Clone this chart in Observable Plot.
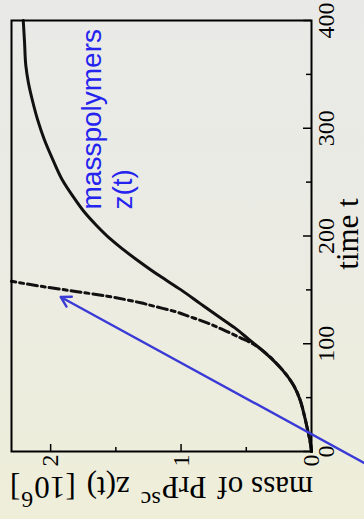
<!DOCTYPE html>
<html><head><meta charset="utf-8">
<script src="https://cdn.jsdelivr.net/npm/d3@7"></script>
<script src="https://cdn.jsdelivr.net/npm/@observablehq/plot@0.6"></script>
<style>
html,body{margin:0;padding:0;}
body{width:364px;height:519px;overflow:hidden;position:relative;
 background:linear-gradient(to bottom,#e9e9e7 0%,#ebebe4 45%,#eeeed9 100%);}
#chart{position:absolute;left:0;top:0;width:519px;height:364px;transform-origin:0 0;transform:translate(0,519px) rotate(-90deg);}
</style></head><body><div id="chart"></div>
<script>
// solid curve: mass of polymers z(t)
const solidT = [0,10,23,35,48,62,76,90,104,115,125,137,150,163,178,188,197,210,222,237,252,270,290,308,326,342,358,380,400];
const solidM = [0,0.012,0.035,0.058,0.088,0.14,0.225,0.34,0.48,0.59,0.71,0.85,1.00,1.165,1.34,1.45,1.54,1.65,1.74,1.83,1.91,1.98,2.05,2.10,2.14,2.17,2.19,2.20,2.21];
// dashed curve
const dashT = [0,10,23,35,48,62,76,90,100,105.5,112,119.4,125,130.2,134.3,138,144.1,148.8,153.4,158];
const dashM = [0,0.012,0.035,0.058,0.088,0.14,0.225,0.34,0.45,0.544,0.66,0.80,0.93,1.055,1.19,1.31,1.566,1.821,2.077,2.30];
// axes
const timeTicks = [0,100,200,300,400];
const timeMinor = [50,150,250,350];
const massTicks = [0,1,2];
const massMinor = [0.5,1.5];
const xLabel = "time t";
const yLabelParts = [
  {text:"mass of", sup:false},
  {text:"PrP", sup:false},
  {text:"sc", sup:true},
  {text:"z(t)", sup:false},
  {text:"[10", sup:false},
  {text:"6", sup:true},
  {text:"]", sup:false}
];
// annotation
const noteText = "masspolymers\nz(t)";
const noteT = 224.6, noteM = 1.379;
const arrowTail = {t:-11, m:-0.41};
const arrowHead = {t:143.4, m:1.923};

const solid = solidT.map((t,i)=>({t, m: solidM[i]}));
const dashed = dashT.map((t,i)=>({t, m: dashM[i]}));
const serif = "Liberation Serif, Times New Roman, serif";
const sans = "Liberation Sans, Arial, sans-serif";
const yLabelFull = yLabelParts.map(d=>d.text).join("");

const W = 519, H = 364, mL = 67, mR = 21, mT = 11, mB = 53;
const innerW = W - mL - mR, innerH = H - mT - mB;

const chart = Plot.plot({
  width: W, height: H,
  marginLeft: mL, marginRight: mR, marginTop: mT, marginBottom: mB,
  style: {background: "transparent", maxWidth: "none", overflow: "visible", fontFamily: serif, color: "black"},
  x: {domain: [0, 400]},
  y: {domain: [0, 2.3]},
  marks: [
    Plot.line(dashed, {x: "t", y: "m", stroke: "#111", strokeWidth: 3, strokeDasharray: "10,4,4,4", curve: "monotone-x"}),
    Plot.line(solid, {x: "t", y: "m", stroke: "#111", strokeWidth: 3, curve: "monotone-x"}),
    Plot.tickX(timeTicks, {x: d=>d, insetTop: innerH - 8, stroke: "black", strokeWidth: 1.5}),
    Plot.tickX(timeMinor, {x: d=>d, insetTop: innerH - 5, stroke: "black", strokeWidth: 1.5}),
    Plot.tickY(massTicks, {y: d=>d, insetRight: innerW - 8, stroke: "black", strokeWidth: 1.5}),
    Plot.tickY(massMinor, {y: d=>d, insetRight: innerW - 5, stroke: "black", strokeWidth: 1.5}),
    Plot.frame({stroke: "black", strokeWidth: 2}),
    Plot.axisX({ticks: timeTicks, tickSize: 0, tickPadding: 5, fontSize: 24, fontFamily: serif, label: null, tickFormat: d=>String(d)}),
    Plot.axisY({ticks: massTicks, tickSize: 0, tickPadding: 3, fontSize: 24, fontFamily: serif, label: null, tickFormat: d=>String(d)}),
    Plot.text([xLabel], {text: d=>d, frameAnchor: "bottom", dy: 46, dx: 2, lineAnchor: "bottom", fontSize: 31, fontFamily: serif, fill: "black"}),
    Plot.text([yLabelFull], {text: d=>d, frameAnchor: "left", dx: -25, rotate: -90, lineAnchor: "bottom", textAnchor: "middle", fontSize: 31, fontFamily: serif, fill: "black"}),
    Plot.text([{t: noteT, m: noteM, s: noteText}], {x: "t", y: "m", text: "s", textAnchor: "start", lineAnchor: "bottom", lineHeight: 1.107, fontSize: 28, fontFamily: sans, fill: "#2424ee"}),
    Plot.arrow([{x1: arrowTail.t, y1: arrowTail.m, x2: arrowHead.t, y2: arrowHead.m}], {x1: "x1", y1: "y1", x2: "x2", y2: "y2", stroke: "#3a3ad6", strokeWidth: 2.4, headLength: 7})
  ]
});

// rebuild the y label with superscripts
chart.querySelectorAll("text").forEach(el => {
  if (el.textContent === yLabelFull) {
    el.textContent = "";
    el.setAttribute("xml:space", "preserve");
    const ns = "http://www.w3.org/2000/svg";
    let prevSup = false;
    yLabelParts.forEach((p, i) => {
      const ts = document.createElementNS(ns, "tspan");
      ts.textContent = p.text;
      let dy = 0, dx = 0;
      if (p.sup) { ts.setAttribute("font-size", "24"); dy = -15; dx = 1; }
      else {
        if (prevSup) dy = 15;
        if (i > 0) dx = (yLabelParts[i-1].text.endsWith("10")) ? 0 : 11;
        if (p.text === "]") dx = 1;
      }
      if (dy) ts.setAttribute("dy", dy);
      if (dx) ts.setAttribute("dx", dx);
      el.appendChild(ts);
      prevSup = p.sup;
    });
  }
});

document.getElementById("chart").appendChild(chart);
</script>
</body></html>
